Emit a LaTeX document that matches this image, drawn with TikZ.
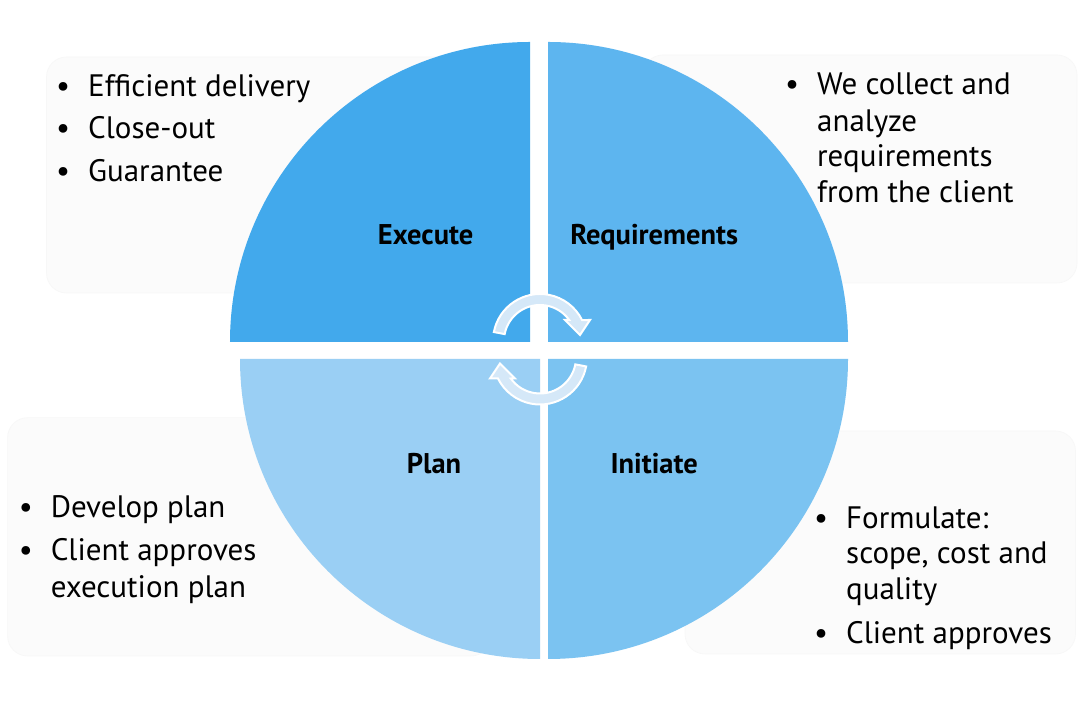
\documentclass[tikz,border=0pt]{standalone}
\usepackage{fontspec}
\setmainfont{PT Sans}
\definecolor{cexe}{HTML}{42A9EC}
\definecolor{creq}{HTML}{5DB5EF}
\definecolor{cini}{HTML}{7BC3F1}
\definecolor{cpla}{HTML}{9ACFF4}
\definecolor{carr}{HTML}{D5E8F8}
\definecolor{cbox}{HTML}{FBFBFB}
\newcommand{\blt}{\llap{\textbullet\hspace{18bp}}}
\newcommand{\cyclepath}{(169:47bp) arc[start angle=169,end angle=26.5,radius=47bp] -- (50,21) -- (40,6) -- (25,21) -- (35.7:36bp) arc[start angle=35.7,end angle=169,radius=36bp] -- cycle}
\tikzset{
  infobox/.style={fill=cbox, draw=black!3, line width=0.6bp, rounded corners=20bp},
  txt/.style={anchor=base west, inner sep=0pt, font=\fontsize{31bp}{36bp}\selectfont},
  lbl/.style={anchor=base, inner sep=0pt, font=\bfseries\fontsize{28.5bp}{32bp}\selectfont},
  cyc/.style={fill=carr, draw=white, line width=2bp, line join=miter}
}
\begin{document}
\begin{tikzpicture}[x=1bp,y=1bp]
\useasboundingbox (0,0) rectangle (1080,702);
\fill[white] (0,0) rectangle (1080,702);
% boxes
\draw[infobox] (46.5,409) rectangle (461,645);
\draw[infobox] (643,419) rectangle (1077,647);
\draw[infobox] (7.6,46) rectangle (491,284.3);
\draw[infobox] (685,48) rectangle (1075.5,271);
% quadrants
\fill[cexe] (530,360) -- (530,660) arc[start angle=90,end angle=180,radius=300bp] -- cycle;
\fill[creq] (548,360) -- (848,360) arc[start angle=0,end angle=90,radius=300bp] -- cycle;
\fill[cpla] (540,343) -- (240,343) arc[start angle=180,end angle=270,radius=300bp] -- cycle;
\fill[cini] (548,343) -- (548,43) arc[start angle=270,end angle=360,radius=300bp] -- cycle;
% cycle arrows
\begin{scope}[shift={(540,361)}]
  \draw[cyc] \cyclepath;
\end{scope}
\begin{scope}[shift={(540,344.5)},rotate=180]
  \draw[cyc] \cyclepath;
\end{scope}
% labels
\node[lbl] (lexe) at (425.7,457) {Execute};
\node[lbl] (lreq) at (654.2,457) {Requirements};
\node[lbl] (lpla) at (434,228) {Plan};
\node[lbl] (lini) at (654.2,228) {Initiate};
% execute text
\node[txt] (e1) at (88,605) {\blt Efficient delivery};
\node[txt] (e2) at (88,563) {\blt Close-out};
\node[txt] (e3) at (88,520) {\blt Guarantee};
% requirements text
\node[txt] (r1) at (817,607) {\blt We collect and};
\node[txt] (r2) at (817,570.3) {analyze};
\node[txt] (r3) at (817,535.3) {requirements};
\node[txt] (r4) at (817,499) {from the client};
% plan text
\node[txt] (p1) at (50.6,184.3) {\blt Develop plan};
\node[txt] (p2) at (50.6,141) {\blt Client approves};
\node[txt] (p3) at (50.6,104.3) {execution plan};
% initiate text
\node[txt] (i1) at (846,173) {\blt Formulate:};
\node[txt] (i2) at (846,138) {scope, cost and};
\node[txt] (i3) at (846,102) {quality};
\node[txt] (i4) at (846,58) {\blt Client approves};
\end{tikzpicture}
\end{document}
